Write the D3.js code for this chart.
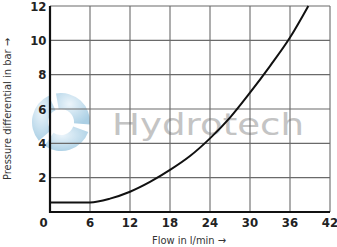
<!DOCTYPE html>
<html><head><meta charset="utf-8">
<script src="https://cdn.jsdelivr.net/npm/d3@7"></script>
<style>
html,body{margin:0;padding:0;background:#fff;}
svg{display:block;}
.narrow{font-family:"Liberation Sans Narrow","DejaVu Sans Condensed","Roboto",sans-serif;}
</style></head>
<body>
<svg id="c" width="337" height="247"></svg>
<script>
const flow = [0, 3, 6, 9, 12, 15, 18, 21, 24, 27, 30, 33, 36, 38.75];
const pressure = [0.55, 0.55, 0.56, 0.78, 1.18, 1.75, 2.45, 3.26, 4.29, 5.5, 6.95, 8.5, 10.16, 12];
const xTicks = [6, 12, 18, 24, 30, 36, 42];
const yTicks = [2, 4, 6, 8, 10, 12];
const xTitle = "Flow in l/min →";
const yTitle = "Pressure differential in bar →";
const watermark = "Hydrotech";

const svg = d3.select("#c");
const x = d3.scaleLinear().domain([0, 42]).range([50, 330]);
const y = d3.scaleLinear().domain([0, 12]).range([212, 6]);

// watermark logo
const lg = svg.append("g").attr("transform", "translate(61,122)").attr("opacity", 0.75);
const defs = svg.append("defs");
const grad = defs.append("radialGradient").attr("id", "wg").attr("cx", "40%").attr("cy", "35%").attr("r", "70%");
grad.append("stop").attr("offset", "0%").attr("stop-color", "#e6f2fa");
grad.append("stop").attr("offset", "100%").attr("stop-color", "#8fc0dc");
const blade = d3.arc().innerRadius(13).outerRadius(29);
[0, 120, 240].forEach(a => {
  lg.append("path")
    .attr("d", blade({startAngle: (a - 10) * Math.PI / 180, endAngle: (a + 95) * Math.PI / 180}))
    .attr("fill", "url(#wg)");
});
svg.append("text").attr("x", 112).attr("y", 135)
  .attr("font-family", "DejaVu Sans, sans-serif").attr("font-size", 31)
  .attr("textLength", 192).attr("lengthAdjust", "spacingAndGlyphs")
  .attr("fill", "#c4c4c4").text(watermark);

// grid
svg.append("g").selectAll("line").data(xTicks).join("line")
  .attr("x1", d => x(d)).attr("x2", d => x(d)).attr("y1", y(0)).attr("y2", y(12))
  .attr("stroke", "#6a6a6a").attr("stroke-width", 1.1);
svg.append("g").selectAll("line").data(yTicks).join("line")
  .attr("x1", x(0)).attr("x2", x(42)).attr("y1", d => y(d)).attr("y2", d => y(d))
  .attr("stroke", "#6a6a6a").attr("stroke-width", 1.1);

// axes lines
svg.append("line").attr("x1", x(0)).attr("x2", x(0)).attr("y1", y(0) + 1).attr("y2", y(12))
  .attr("stroke", "#111").attr("stroke-width", 2.2);
svg.append("line").attr("x1", x(0) - 1).attr("x2", x(42)).attr("y1", y(0)).attr("y2", y(0))
  .attr("stroke", "#111").attr("stroke-width", 2.2);

// curve
const line = d3.line().x((d, i) => x(flow[i])).y(d => y(d)).curve(d3.curveMonotoneX);
svg.append("path").attr("d", line(pressure)).attr("fill", "none")
  .attr("stroke", "#111").attr("stroke-width", 2);

// tick labels
svg.append("g").attr("class", "narrow").selectAll("text").data(yTicks).join("text")
  .attr("x", 46.5).attr("y", d => y(d)).attr("dy", "0.36em").attr("text-anchor", "end")
  .attr("font-size", 13).attr("font-weight", "bold").attr("fill", "#222").text(d => d);
svg.append("g").attr("class", "narrow").selectAll("text").data(xTicks).join("text")
  .attr("x", d => x(d)).attr("y", 227).attr("text-anchor", "middle")
  .attr("font-size", 13).attr("font-weight", "bold").attr("fill", "#222").text(d => d);
svg.append("text").attr("class", "narrow").attr("x", 43.5).attr("y", 227).attr("text-anchor", "middle")
  .attr("font-size", 13).attr("font-weight", "bold").attr("fill", "#222").text(0);

// titles
svg.append("text").attr("class", "narrow").attr("x", 189).attr("y", 244).attr("text-anchor", "middle")
  .attr("font-size", 11).attr("fill", "#333").text(xTitle);
svg.append("text").attr("class", "narrow").attr("transform", "translate(11,109) rotate(-90)")
  .attr("text-anchor", "middle").attr("font-size", 11).attr("fill", "#333").text(yTitle);
</script>
</body></html>
